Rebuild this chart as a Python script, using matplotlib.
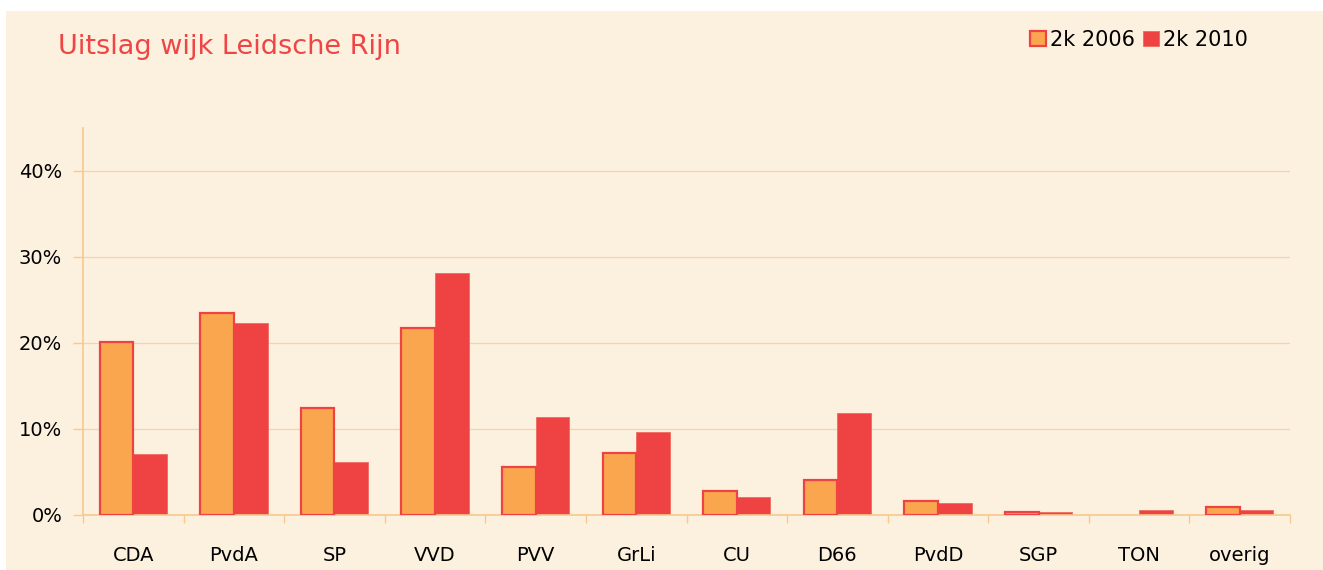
import matplotlib.pyplot as plt
import numpy as np
from matplotlib.patches import Rectangle

partijen = ['CDA', 'PvdA', 'SP', 'VVD', 'PVV', 'GrLi', 'CU', 'D66',
            'PvdD', 'SGP', 'TON', 'overig']
uitslag_2006 = [20.1, 23.5, 12.4, 21.7, 5.6, 7.2, 2.8, 4.1, 1.6, 0.35, 0.0, 0.9]
uitslag_2010 = [7.1, 22.3, 6.2, 28.1, 11.4, 9.7, 2.1, 11.9, 1.4, 0.3, 0.6, 0.55]
y_ticks = [0, 10, 20, 30, 40]

achtergrond = '#FCF0DE'
rood = '#EF4343'
oranje = '#F9A64E'
lijn = '#F8C88E'

fig = plt.figure(figsize=(13.23, 5.70), dpi=100, facecolor='white')
# beige vlak met smalle witte rand links en boven
fig.patches.append(Rectangle((6 / 1323, 0), 1, (570 - 11) / 570,
                             transform=fig.transFigure, facecolor=achtergrond,
                             edgecolor='none', zorder=-1))

ax = fig.add_axes([83 / 1323, 55 / 570, (1290 - 83) / 1323, (515 - 128) / 570])
ax.set_facecolor(achtergrond)

x = np.arange(len(partijen))
w = 0.335
# geen rand tekenen bij een lege staaf (TON 2006)
rand_2006 = [1.6 if v > 0 else 0 for v in uitslag_2006]
ax.bar(x - w / 2, uitslag_2006, width=w, color=oranje, edgecolor=rood,
       linewidth=rand_2006, label='2k 2006', zorder=3)
ax.bar(x + w / 2, uitslag_2010, width=w, color=rood, edgecolor='#F06A5E',
       linewidth=0.6, label='2k 2010', zorder=2)

ax.set_xlim(-0.5, len(partijen) - 0.5)
ax.set_ylim(0, 45)

ax.set_yticks(y_ticks)
ax.set_yticklabels([f'{v}%' for v in y_ticks], fontsize=14)
ax.grid(axis='y', color='#F5D4A8', linewidth=0.9, zorder=0)

# streepjes op de groepsgrenzen, labels in het midden
ax.set_xticks(np.arange(-0.5, len(partijen), 1.0))
ax.set_xticklabels([])
ax.set_xticks(x, minor=True)
ax.set_xticklabels(partijen, minor=True, fontsize=14)
ax.tick_params(axis='x', which='major', length=6, color=lijn, width=1)
ax.tick_params(axis='x', which='minor', length=0, pad=22)
ax.tick_params(axis='y', length=7, color=lijn, width=1, pad=8)

for s in ['top', 'right']:
    ax.spines[s].set_visible(False)
for s in ['left', 'bottom']:
    ax.spines[s].set_color(lijn)
    ax.spines[s].set_linewidth(1.2)

fig.text(58 / 1323, 1 - 47 / 570, 'Uitslag wijk Leidsche Rijn', color='#EF4545',
         fontsize=19.5, va='center', ha='left')

fig.legend(loc='center right', bbox_to_anchor=(1248 / 1323, 1 - 40 / 570),
           ncol=2, frameon=False, fontsize=15, handlelength=0.75,
           handleheight=0.75, handletextpad=0.2, columnspacing=0.4,
           borderpad=0, borderaxespad=0)

plt.savefig('out.png', dpi=100, facecolor='white')
